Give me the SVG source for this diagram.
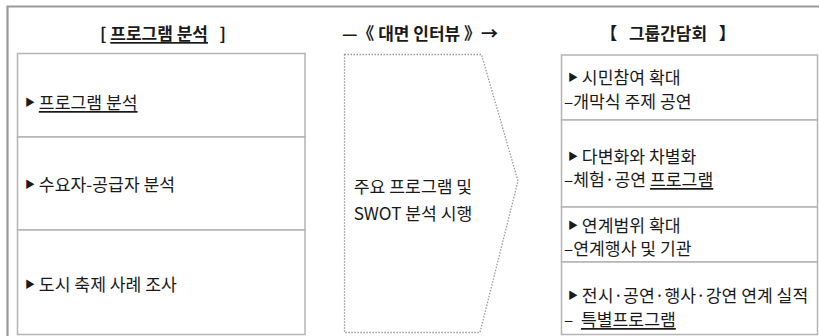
<svg xmlns="http://www.w3.org/2000/svg" width="819" height="336" viewBox="0 0 819 336">
<style>
text{font-family:"Noto Sans CJK KR","Noto Sans",sans-serif;fill:#1a1a1a;font-size:17.2px;dominant-baseline:central}
.t{font-weight:bold;font-size:17px}
.c{text-anchor:middle}
.box{fill:#fff;stroke:#b4b4b4;stroke-width:1.5}
.tri{font-size:10px}
.u{text-decoration:underline}
</style>
<rect width="819" height="336" fill="#fff"/>
<path d="M7.5,337 V6.5 H819" fill="none" stroke="#999" stroke-width="2.2"/>
<g id="titles">
<text class="t c" x="163" y="32" xml:space="preserve">[ <tspan class="u">프로그램 분석</tspan>   ]</text>
<text class="t c" x="420" y="32" xml:space="preserve">—《 대면 인터뷰 》→</text>
<text class="t c" x="668" y="32" xml:space="preserve">【   그룹간담회   】</text>
</g>
<g id="left1"><rect class="box" x="17.5" y="53.5" width="287.5" height="83.5"/><text x="25" y="101"><tspan class="tri">▶</tspan> <tspan class="u">프로그램 분석</tspan></text></g>
<g id="left2"><rect class="box" x="17.5" y="137" width="287.5" height="93"/><text x="25" y="183"><tspan class="tri">▶</tspan> 수요자-공급자 분석</text></g>
<g id="left3"><rect class="box" x="17.5" y="230" width="287.5" height="104.5"/><text x="25" y="283"><tspan class="tri">▶</tspan> 도시 축제 사례 조사</text></g>
<g id="middle">
<path d="M344.5,54.5 H481.5 L518,181 L480,332.5 H344.5 Z" fill="none" stroke="#999" stroke-width="1.3" stroke-dasharray="1.5 1.5"/>
<text class="c" x="413" y="185">주요 프로그램 및</text>
<text class="c" x="413" y="212">SWOT 분석 시행</text>
</g>
<g id="right1"><rect class="box" x="561.5" y="55" width="256" height="65"/><text x="568" y="76"><tspan class="tri">▶</tspan> 시민참여 확대</text><text x="564" y="100">–개막식 주제 공연</text></g>
<g id="right2"><rect class="box" x="561.5" y="120" width="256" height="87"/><text x="568" y="155"><tspan class="tri">▶</tspan> 다변화와 차별화</text><text x="564" y="178">–체험·공연 <tspan class="u">프로그램</tspan></text></g>
<g id="right3"><rect class="box" x="561.5" y="207" width="256" height="55"/><text x="568" y="224"><tspan class="tri">▶</tspan> 연계범위 확대</text><text x="564" y="247">–연계행사 및 기관</text></g>
<g id="right4"><rect class="box" x="561.5" y="262" width="256" height="72.5"/><text x="568" y="294"><tspan class="tri">▶</tspan> 전시·공연·행사·강연 연계 실적</text><text x="564" y="318" xml:space="preserve">–  <tspan class="u">특별프로그램</tspan></text></g>
<g id="connectors"></g>
</svg>
